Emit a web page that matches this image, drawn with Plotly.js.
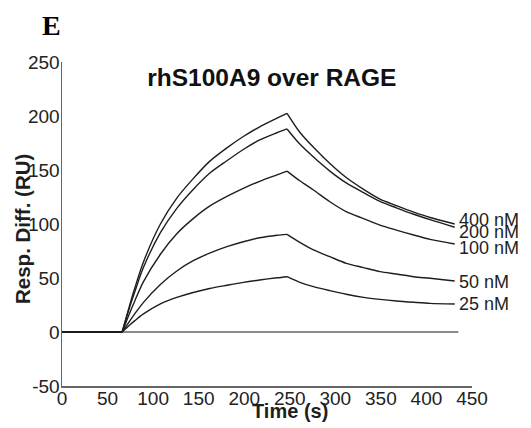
<!DOCTYPE html>
<html>
<head>
<meta charset="utf-8">
<script src="https://cdn.plot.ly/plotly-3.0.1.min.js"></script>
<style>html,body{margin:0;padding:0;background:#fff;}#chart{width:531px;height:428px;}</style>
</head>
<body>
<div id="chart"></div>
<script>
// Time points (s)
var time = [0, 66, 75, 80, 89, 108, 126, 144, 162, 181, 199, 217, 236, 247, 261, 276, 294, 312, 331, 349, 367, 386, 404, 431];
// Response (RU) per concentration
var r400 = [0, 0, 27, 41, 64, 100, 124, 142, 158, 170.5, 181, 190, 198, 202.5, 185, 171, 156, 143, 132, 123, 117, 111, 106, 100];
var r200 = [0, 0, 25, 37.5, 59, 92, 114.5, 132, 147, 158.6, 169, 177.8, 184.5, 188, 174, 162, 149, 138, 129, 121, 115, 109, 104, 97];
var r100 = [0, 0, 19, 29, 46, 72, 91, 105, 116.5, 125.5, 133, 139.5, 145.5, 149, 140, 131.5, 120.6, 111.4, 105, 99, 94.4, 89.8, 85.8, 81.5];
var r50  = [0, 0, 11, 17, 27, 44, 56.5, 66, 73, 79, 83.6, 87.3, 89.6, 90.4, 83, 76, 69.7, 63.6, 59.6, 55.9, 53.7, 51.2, 49.7, 47.2];
var r25  = [0, 0, 7, 10.5, 16.5, 26, 32, 36.6, 40.3, 43.3, 46, 48.2, 50.2, 51.2, 46, 42, 38.3, 34.9, 32.1, 30.2, 28.7, 27.5, 26.5, 25.9];
var seriesNames = ['400 nM', '200 nM', '100 nM', '50 nM', '25 nM'];
var seriesVals = [r400, r200, r100, r50, r25];
var injectionStart = 66;   // s
var injectionEnd = 247;    // s
var zeroLineX = [0, 435];
var zeroLineY = [0, 0];
var xTicks = [0, 50, 100, 150, 200, 250, 300, 350, 400, 450];
var yTicks = [-50, 0, 50, 100, 150, 200, 250];
var yTickText = ['-50', '0', '50', '100', '150', '200', '250'];

var labelShift = [4, -5, -4, -1, 0];
var font = 'Liberation Sans, Arial, sans-serif';
var curveLine = {color: '#1e1e1e', width: 1.4};

var traces = [{
  x: zeroLineX, y: zeroLineY, mode: 'lines', type: 'scatter',
  line: {color: '#8a8a8a', width: 1.8}, hoverinfo: 'skip', showlegend: false
}];

function phase(v, lo, hi) {
  var xs = [], ys = [];
  for (var k = 0; k < time.length; k++) {
    if (time[k] >= lo && time[k] <= hi) { xs.push(time[k]); ys.push(v[k]); }
  }
  return {x: xs, y: ys};
}

seriesVals.forEach(function (v, i) {
  var base = phase(v, -1, injectionStart);
  var assoc = phase(v, injectionStart, injectionEnd);
  var diss = phase(v, injectionEnd, 1e9);
  traces.push({x: base.x, y: base.y, mode: 'lines', type: 'scatter', line: curveLine, showlegend: false});
  traces.push({x: assoc.x, y: assoc.y, mode: 'lines', type: 'scatter', name: seriesNames[i],
               line: {color: curveLine.color, width: curveLine.width, shape: 'spline', smoothing: 0.8}, showlegend: false});
  traces.push({x: diss.x, y: diss.y, mode: 'lines', type: 'scatter', name: seriesNames[i],
               line: {color: curveLine.color, width: curveLine.width, shape: 'spline', smoothing: 0.8}, showlegend: false});
});

var annotations = seriesVals.map(function (v, i) {
  return {
    x: time[time.length - 1], y: v[v.length - 1], xref: 'x', yref: 'y',
    text: seriesNames[i], showarrow: false, xanchor: 'left', yanchor: 'middle',
    xshift: 2, yshift: labelShift[i],
    font: {family: font, size: 18, color: '#1e1e1e'}
  };
});
annotations.push({
  text: 'E', xref: 'paper', yref: 'paper', x: -0.026, y: 1.0, yshift: 37,
  xanchor: 'center', yanchor: 'middle', showarrow: false,
  font: {family: 'Liberation Serif, Times New Roman, serif', size: 28, color: '#000', weight: 'bold'}
});
annotations.push({
  text: '<b>Resp. Diff. (RU)</b>', xref: 'paper', yref: 'paper', x: 0, y: 0.5,
  xshift: -40, yshift: -5, textangle: -90, xanchor: 'center', yanchor: 'middle', showarrow: false,
  font: {family: font, size: 20.5, color: '#1e1e1e'}
});
annotations.push({
  text: '<b>Time (s)</b>', xref: 'paper', yref: 'paper', x: 0.555, y: 0,
  yshift: -25, xanchor: 'center', yanchor: 'middle', showarrow: false,
  font: {family: font, size: 20, color: '#1e1e1e'}
});

var layout = {
  width: 531, height: 428,
  margin: {l: 62, r: 59, t: 62, b: 42},
  paper_bgcolor: '#fff', plot_bgcolor: '#fff',
  title: {text: '<b>rhS100A9 over RAGE</b>', x: 0.512, xanchor: 'center', y: 0.818, yanchor: 'middle',
          font: {family: font, size: 24.5, color: '#111'}},
  xaxis: {range: [0, 450], tickvals: xTicks, showline: true, linecolor: '#666', linewidth: 1.5,
          ticks: '', showgrid: false, zeroline: false, ticklabelstandoff: -5,
          tickfont: {family: font, size: 19, color: '#222'}},
  yaxis: {range: [-50, 250], tickvals: yTicks, ticktext: yTickText, showline: true, linecolor: '#666', linewidth: 1.5,
          ticks: '', showgrid: false, zeroline: false, ticklabelstandoff: -3,
          tickfont: {family: font, size: 19, color: '#222'}},
  annotations: annotations,
  showlegend: false
};

Plotly.newPlot('chart', traces, layout, {displayModeBar: false, staticPlot: true});
</script>
</body>
</html>
